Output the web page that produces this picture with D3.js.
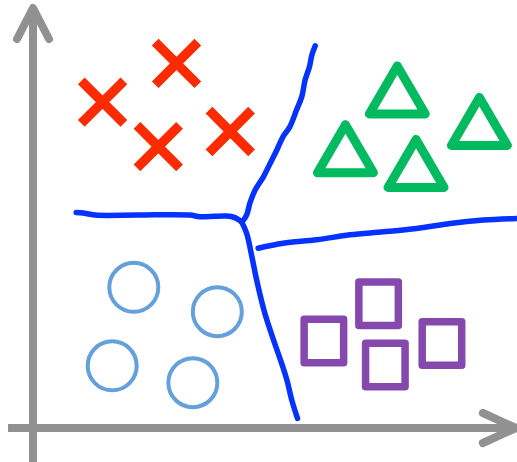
<!DOCTYPE html>
<html>
<head>
<meta charset="utf-8">
<script src="https://cdn.jsdelivr.net/npm/d3@7"></script>
<style>
  body { margin: 0; background: #fff; }
  svg { display: block; }
</style>
</head>
<body>
<svg id="chart" width="517" height="462"></svg>
<script>
const width = 517;
const height = 462;

// class samples (x, y in data units)
const crosses = [[1.45, 7.76], [2.99, 8.68], [2.61, 6.70], [4.11, 7.06]];
const triangles = [[7.59, 8.05], [6.51, 6.65], [7.98, 6.30], [9.30, 7.30]];
const circles = [[2.10, 3.35], [3.84, 2.77], [1.65, 1.48], [3.33, 1.08]];
const squares = [[6.06, 2.07], [7.20, 2.96], [7.34, 1.50], [8.52, 2.01]];

// hand drawn decision boundaries
const boundaryLeft = [[0.90, 5.13], [1.04, 5.12], [1.29, 5.07], [2.17, 5.07], [3.27, 5.07],
  [3.48, 5.03], [4.00, 5.05], [4.15, 5.03], [4.31, 4.94], [4.35, 4.90]];
const boundaryUp = [[4.35, 4.90], [4.45, 5.07], [4.52, 5.36], [4.63, 5.67], [4.80, 5.98],
  [4.94, 6.30], [5.08, 6.62], [5.21, 6.94], [5.35, 7.17], [5.49, 7.57], [5.60, 7.89],
  [5.67, 8.29], [5.76, 8.60], [5.81, 8.88], [5.88, 9.10]];
const boundaryDown = [[4.35, 4.90], [4.45, 4.64], [4.56, 4.08], [4.66, 3.52], [4.83, 2.73],
  [5.01, 2.10], [5.18, 1.54], [5.29, 1.14], [5.39, 0.67], [5.51, 0.23]];
const boundaryRight = [[4.69, 4.28], [5.21, 4.40], [5.91, 4.48], [6.60, 4.60], [7.30, 4.67],
  [7.99, 4.75], [8.69, 4.87], [9.38, 4.95], [10.08, 4.99]];

const xAxisExtent = [-0.52, 10.06];
const yAxisExtent = [-0.81, 10.0];

const x = d3.scaleLinear().domain([0, 10]).range([33, 513]);
const y = d3.scaleLinear().domain([0, 10]).range([428, 8]);

const svg = d3.select("#chart");
const gray = "#919191";

// axes with arrow heads
const axes = svg.append("g")
  .attr("stroke", gray)
  .attr("fill", "none");

axes.append("line")
  .attr("x1", x(0)).attr("x2", x(0))
  .attr("y1", y(yAxisExtent[0])).attr("y2", y(yAxisExtent[1]) + 3)
  .attr("stroke-width", 8);

axes.append("line")
  .attr("x1", x(xAxisExtent[0])).attr("x2", x(xAxisExtent[1]) - 3)
  .attr("y1", y(0)).attr("y2", y(0))
  .attr("stroke-width", 8);

axes.append("path")
  .attr("d", `M${x(0) - 16},${y(yAxisExtent[1]) + 31} L${x(0)},${y(yAxisExtent[1])} L${x(0) + 16},${y(yAxisExtent[1]) + 31}`)
  .attr("stroke-width", 8)
  .attr("stroke-linecap", "round")
  .attr("stroke-linejoin", "round");

axes.append("path")
  .attr("d", `M${x(xAxisExtent[1]) - 33},${y(0) - 15} L${x(xAxisExtent[1])},${y(0)} L${x(xAxisExtent[1]) - 33},${y(0) + 15}`)
  .attr("stroke-width", 8)
  .attr("stroke-linecap", "round")
  .attr("stroke-linejoin", "round");

// boundaries
const line = d3.line()
  .x(d => x(d[0]))
  .y(d => y(d[1]))
  .curve(d3.curveCatmullRom);

svg.append("g")
  .selectAll("path")
  .data([boundaryLeft, boundaryUp, boundaryDown, boundaryRight])
  .enter()
  .append("path")
  .attr("d", line)
  .attr("fill", "none")
  .attr("stroke", "#0432FF")
  .attr("stroke-width", 5.5)
  .attr("stroke-linecap", "round")
  .attr("stroke-linejoin", "round");

// crosses
const a = 21.3;
svg.append("g")
  .selectAll("path")
  .data(crosses)
  .enter()
  .append("path")
  .attr("transform", d => `translate(${x(d[0])},${y(d[1])})`)
  .attr("d", `M${-a},${-a}L${a},${a}M${-a},${a}L${a},${-a}`)
  .attr("stroke", "#FF2B00")
  .attr("stroke-width", 9.5)
  .attr("fill", "none");

// triangles
svg.append("g")
  .selectAll("path")
  .data(triangles)
  .enter()
  .append("path")
  .attr("transform", d => `translate(${x(d[0])},${y(d[1])})`)
  .attr("d", "M0,-24L28,24L-28,24Z")
  .attr("stroke", "#00BA5F")
  .attr("stroke-width", 9)
  .attr("stroke-linejoin", "round")
  .attr("fill", "none");

// circles
svg.append("g")
  .selectAll("circle")
  .data(circles)
  .enter()
  .append("circle")
  .attr("cx", d => x(d[0]))
  .attr("cy", d => y(d[1]))
  .attr("r", 24.5)
  .attr("stroke", "#64A0DC")
  .attr("stroke-width", 4)
  .attr("fill", "none");

// squares
svg.append("g")
  .selectAll("rect")
  .data(squares)
  .enter()
  .append("rect")
  .attr("x", d => x(d[0]) - 19.75)
  .attr("y", d => y(d[1]) - 21.75)
  .attr("width", 39.5)
  .attr("height", 43.5)
  .attr("stroke", "#8549AE")
  .attr("stroke-width", 7.5)
  .attr("stroke-linejoin", "round")
  .attr("fill", "none");
</script>
</body>
</html>
